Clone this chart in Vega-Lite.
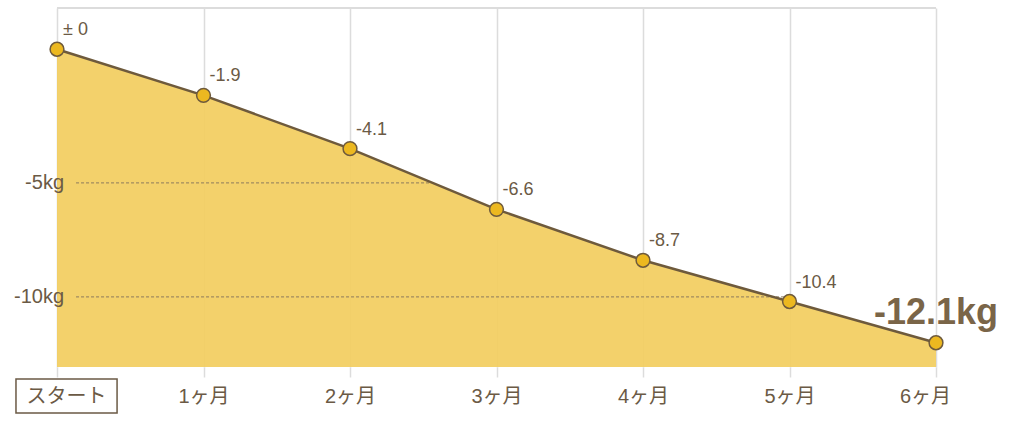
{
  "$schema": "https://vega.github.io/schema/vega-lite/v6.json",
  "width": 879,
  "height": 359,
  "autosize": "none",
  "padding": {"left": 57, "top": 8, "right": 88, "bottom": 56},
  "background": "white",
  "config": {
    "view": {"stroke": null},
    "font": "Liberation Sans, Noto Sans CJK JP",
    "text": {"font": "Liberation Sans, Noto Sans CJK JP"}
  },
  "datasets": {
    "weight": [
      {"month": 0, "change": 0, "text": "± 0"},
      {"month": 1, "change": -1.9, "text": "-1.9"},
      {"month": 2, "change": -4.1, "text": "-4.1"},
      {"month": 3, "change": -6.6, "text": "-6.6"},
      {"month": 4, "change": -8.7, "text": "-8.7"},
      {"month": 5, "change": -10.4, "text": "-10.4"},
      {"month": 6, "change": -12.1, "text": "-12.1kg"}
    ],
    "guides": [
      {"start": 0.13, "end": 2.55, "level": -5.51, "text": "-5kg"},
      {"start": 0.13, "end": 4.97, "level": -10.21, "text": "-10kg"}
    ]
  },
  "layer": [
    {
      "data": {"name": "weight"},
      "mark": {"type": "area", "color": "#f2cd5e", "opacity": 0.92},
      "encoding": {
        "x": {
          "field": "month",
          "type": "quantitative",
          "scale": {"domain": [0, 6], "nice": false},
          "axis": {
            "values": [0, 1, 2, 3, 4, 5, 6],
            "title": null,
            "domain": false,
            "grid": true,
            "gridColor": "#dcdcdc",
            "gridWidth": 1.5,
            "ticks": true,
            "tickColor": "#dcdcdc",
            "tickWidth": 1.5,
            "tickSize": 10,
            "labelFlush": false,
            "labelPadding": 9,
            "labelFontSize": 20,
            "labelColor": "#6b5a45",
            "labelFont": "Liberation Sans, Noto Sans CJK JP",
            "labelOffset": {"condition": [{"test": "datum.value === 0", "value": 9}, {"test": "datum.value === 6", "value": -11}], "value": 0},
            "labelExpr": "['スタート','1ヶ月','2ヶ月','3ヶ月','4ヶ月','5ヶ月','6ヶ月'][datum.value]"
          }
        },
        "y": {
          "field": "change",
          "type": "quantitative",
          "scale": {"domain": [-13.1, 1.7], "nice": false, "zero": false},
          "axis": null
        },
        "y2": {"datum": -13.1}
      }
    },
    {
      "data": {"values": [{}]},
      "mark": {"type": "rule", "color": "#dcdcdc", "strokeWidth": 2},
      "encoding": {"y": {"datum": 1.7}}
    },
    {
      "data": {"name": "guides"},
      "mark": {"type": "rule", "color": "#8c7a5c", "strokeWidth": 1, "strokeDash": [3, 2]},
      "encoding": {
        "x": {"field": "start", "type": "quantitative"},
        "x2": {"field": "end"},
        "y": {"field": "level", "type": "quantitative"}
      }
    },
    {
      "data": {"name": "guides"},
      "mark": {"type": "text", "align": "right", "baseline": "middle", "dx": 7, "fontSize": 20, "color": "#6b5a45"},
      "encoding": {
        "x": {"datum": 0},
        "y": {"field": "level", "type": "quantitative"},
        "text": {"field": "text"}
      }
    },
    {
      "data": {"name": "weight"},
      "mark": {"type": "line", "color": "#6e5a3c", "strokeWidth": 2.5},
      "encoding": {
        "x": {"field": "month", "type": "quantitative"},
        "y": {"field": "change", "type": "quantitative"}
      }
    },
    {
      "data": {"name": "weight"},
      "mark": {"type": "point", "filled": true, "fill": "#ecb820", "stroke": "#6e5a3c", "strokeWidth": 1.5, "size": 190, "opacity": 1},
      "encoding": {
        "x": {"field": "month", "type": "quantitative"},
        "y": {"field": "change", "type": "quantitative"}
      }
    },
    {
      "data": {"name": "weight"},
      "transform": [{"filter": "datum.month < 6"}],
      "mark": {"type": "text", "align": "left", "baseline": "alphabetic", "dx": 6, "dy": -14, "fontSize": 18, "color": "#6b5a45"},
      "encoding": {
        "x": {"field": "month", "type": "quantitative"},
        "y": {"field": "change", "type": "quantitative"},
        "text": {"field": "text"}
      }
    },
    {
      "data": {"name": "weight"},
      "transform": [{"filter": "datum.month == 6"}],
      "mark": {"type": "text", "align": "right", "baseline": "alphabetic", "dx": 62, "dy": -19, "fontSize": 36, "fontWeight": "bold", "color": "#7a6548"},
      "encoding": {
        "x": {"field": "month", "type": "quantitative"},
        "y": {"field": "change", "type": "quantitative"},
        "text": {"field": "text"}
      }
    },
    {
      "data": {"values": [{"from": -0.28, "to": 0.41}]},
      "mark": {"type": "rect", "fill": null, "fillOpacity": 0, "stroke": "#6b5a45", "strokeWidth": 1.5, "clip": false},
      "encoding": {
        "x": {"field": "from", "type": "quantitative"},
        "x2": {"field": "to"},
        "y": {"value": 371},
        "y2": {"value": 405}
      }
    }
  ]
}
